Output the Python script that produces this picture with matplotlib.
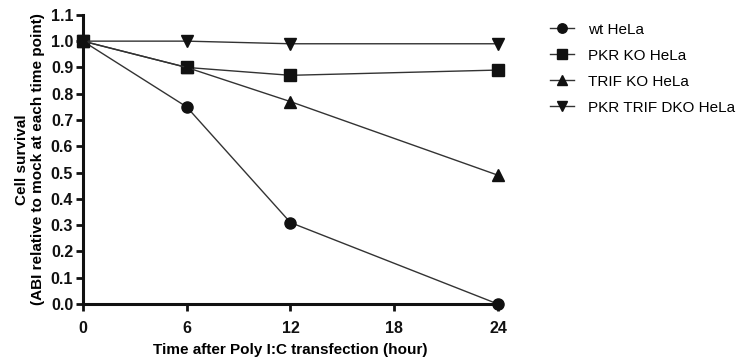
import matplotlib
matplotlib.use("Agg")
import matplotlib.pyplot as plt

plt.rcParams['font.family'] = ['Liberation Sans', 'DejaVu Sans']

hours = [0, 6, 12, 24]
series_names = ["wt HeLa", "PKR KO HeLa", "TRIF KO HeLa", "PKR TRIF DKO HeLa"]
wt = [1.00, 0.75, 0.31, 0.00]
pkr_ko = [1.00, 0.90, 0.87, 0.89]
trif_ko = [1.00, 0.90, 0.77, 0.49]
dko = [1.00, 1.00, 0.99, 0.99]
x_ticks = [0, 6, 12, 18, 24]
y_ticks = [0.0, 0.1, 0.2, 0.3, 0.4, 0.5, 0.6, 0.7, 0.8, 0.9, 1.0, 1.1]

markers = ["o", "s", "^", "v"]
values = [wt, pkr_ko, trif_ko, dko]

fig = plt.figure(figsize=(7.4, 3.62), dpi=100)
ax = fig.add_axes([0.112, 0.160, 0.561, 0.799])

for name, vals, m in zip(series_names, values, markers):
    ax.plot(hours, vals, color="#333333", linewidth=1.0, marker=m,
            markersize=8, markerfacecolor="#111111", markeredgecolor="#111111",
            label=name, clip_on=False, zorder=3)

ax.set_xlim(0, 24)
ax.set_ylim(0, 1.1)
ax.set_xticks(x_ticks)
ax.set_yticks(y_ticks)
ax.set_yticklabels([f"{v:.1f}" for v in y_ticks])
for s in ["top", "right"]:
    ax.spines[s].set_visible(False)
for s in ["left", "bottom"]:
    ax.spines[s].set_linewidth(2.2)
    ax.spines[s].set_color("#111111")
ax.tick_params(width=2.0, length=5, colors="#111111", labelsize=11.5)
for lbl in ax.get_xticklabels() + ax.get_yticklabels():
    lbl.set_fontweight("bold")
ax.tick_params(axis="x", pad=7)
ax.tick_params(axis="y", pad=2)

ax.set_xlabel("Time after Poly I:C transfection (hour)", fontsize=11,
              fontweight="bold", labelpad=5)
ax.set_ylabel("Cell survival\n(ABI relative to mock at each time point)",
              fontsize=11, fontweight="bold", labelpad=4)

leg = fig.legend(loc="upper left", bbox_to_anchor=(0.724, 0.975), frameon=False,
                 fontsize=11, handlelength=1.6, labelspacing=0.78,
                 handletextpad=0.9, markerscale=0.85)

fig.savefig("out.png", dpi=100)
